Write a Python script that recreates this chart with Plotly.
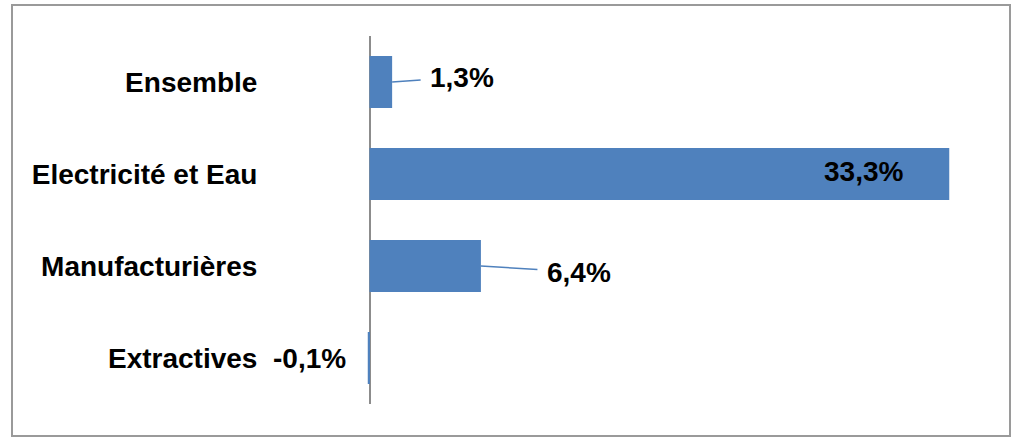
import plotly.graph_objects as go

categories = ["Extractives", "Manufacturières", "Electricité et Eau", "Ensemble"]
values = [-0.1, 6.4, 33.3, 1.3]
value_labels = ["-0,1%", "6,4%", "33,3%", "1,3%"]

W, H = 1024, 448
L, R, T, B = 350, 24, 36, 44
PX_PER_UNIT = 17.41
ZERO_PX = 369.5
x_lo = (L - ZERO_PX) / PX_PER_UNIT
x_hi = (W - R - ZERO_PX) / PX_PER_UNIT

BAR = "#4F81BD"
FONT = "Liberation Sans, Arial, sans-serif"
FS = 28

fig = go.Figure(go.Bar(
    y=categories, x=values, orientation="h",
    marker=dict(color=BAR, line=dict(width=0)),
    hoverinfo="skip",
))

styles = {
    "Extractives": dict(showarrow=False, xanchor="right", xshift=-20, yshift=0),
    "Manufacturières": dict(showarrow=True, ax=98, ay=6),
    "Electricité et Eau": dict(showarrow=False, xanchor="right", xshift=-44, yshift=3),
    "Ensemble": dict(showarrow=True, ax=70, ay=-5),
}
for cat, v, lab in zip(categories, values, value_labels):
    st = styles[cat]
    ann = dict(x=v, y=cat, xref="x", yref="y", text="<b>" + lab + "</b>",
               font=dict(family=FONT, size=FS, color="#000000"))
    if st.get("showarrow"):
        ann.update(showarrow=True, ax=st["ax"], ay=st["ay"], axref="pixel", ayref="pixel",
                   arrowhead=0, arrowwidth=1.5, arrowcolor=BAR, standoff=0, startstandoff=8)
    else:
        ann.update(showarrow=False, xanchor=st["xanchor"], xshift=st["xshift"], yshift=st["yshift"])
    fig.add_annotation(**ann)

pw = W - L - R
ph = H - T - B
def px(p):
    return (p - L) / pw
def py(q):
    return (H - B - q) / ph
fig.add_shape(type="rect", xref="paper", yref="paper",
              x0=px(12), x1=px(1010), y0=py(436), y1=py(5),
              line=dict(color="#9a9a9a", width=2), fillcolor="rgba(0,0,0,0)", layer="below")

fig.update_layout(
    width=W, height=H,
    margin=dict(l=L, r=R, t=T, b=B),
    paper_bgcolor="white", plot_bgcolor="white",
    bargap=0.435,
    showlegend=False,
    xaxis=dict(range=[x_lo, x_hi], showgrid=False, showticklabels=False, ticks="",
               zeroline=True, zerolinecolor="#8c8c8c", zerolinewidth=1.5, showline=False,
               fixedrange=True),
    yaxis=dict(categoryorder="array", categoryarray=categories, showgrid=False,
               showline=False, zeroline=False, ticks="outside", ticklen=0,
               tickcolor="rgba(0,0,0,0)", ticklabelstandoff=86,
               tickfont=dict(family=FONT, size=FS, color="#000000"),
               tickprefix="<b>", ticksuffix="</b>", fixedrange=True),
)

fig.write_html("out.html", config={"displayModeBar": False},
               post_script="document.body.style.margin='0';document.body.style.overflow='hidden';")
